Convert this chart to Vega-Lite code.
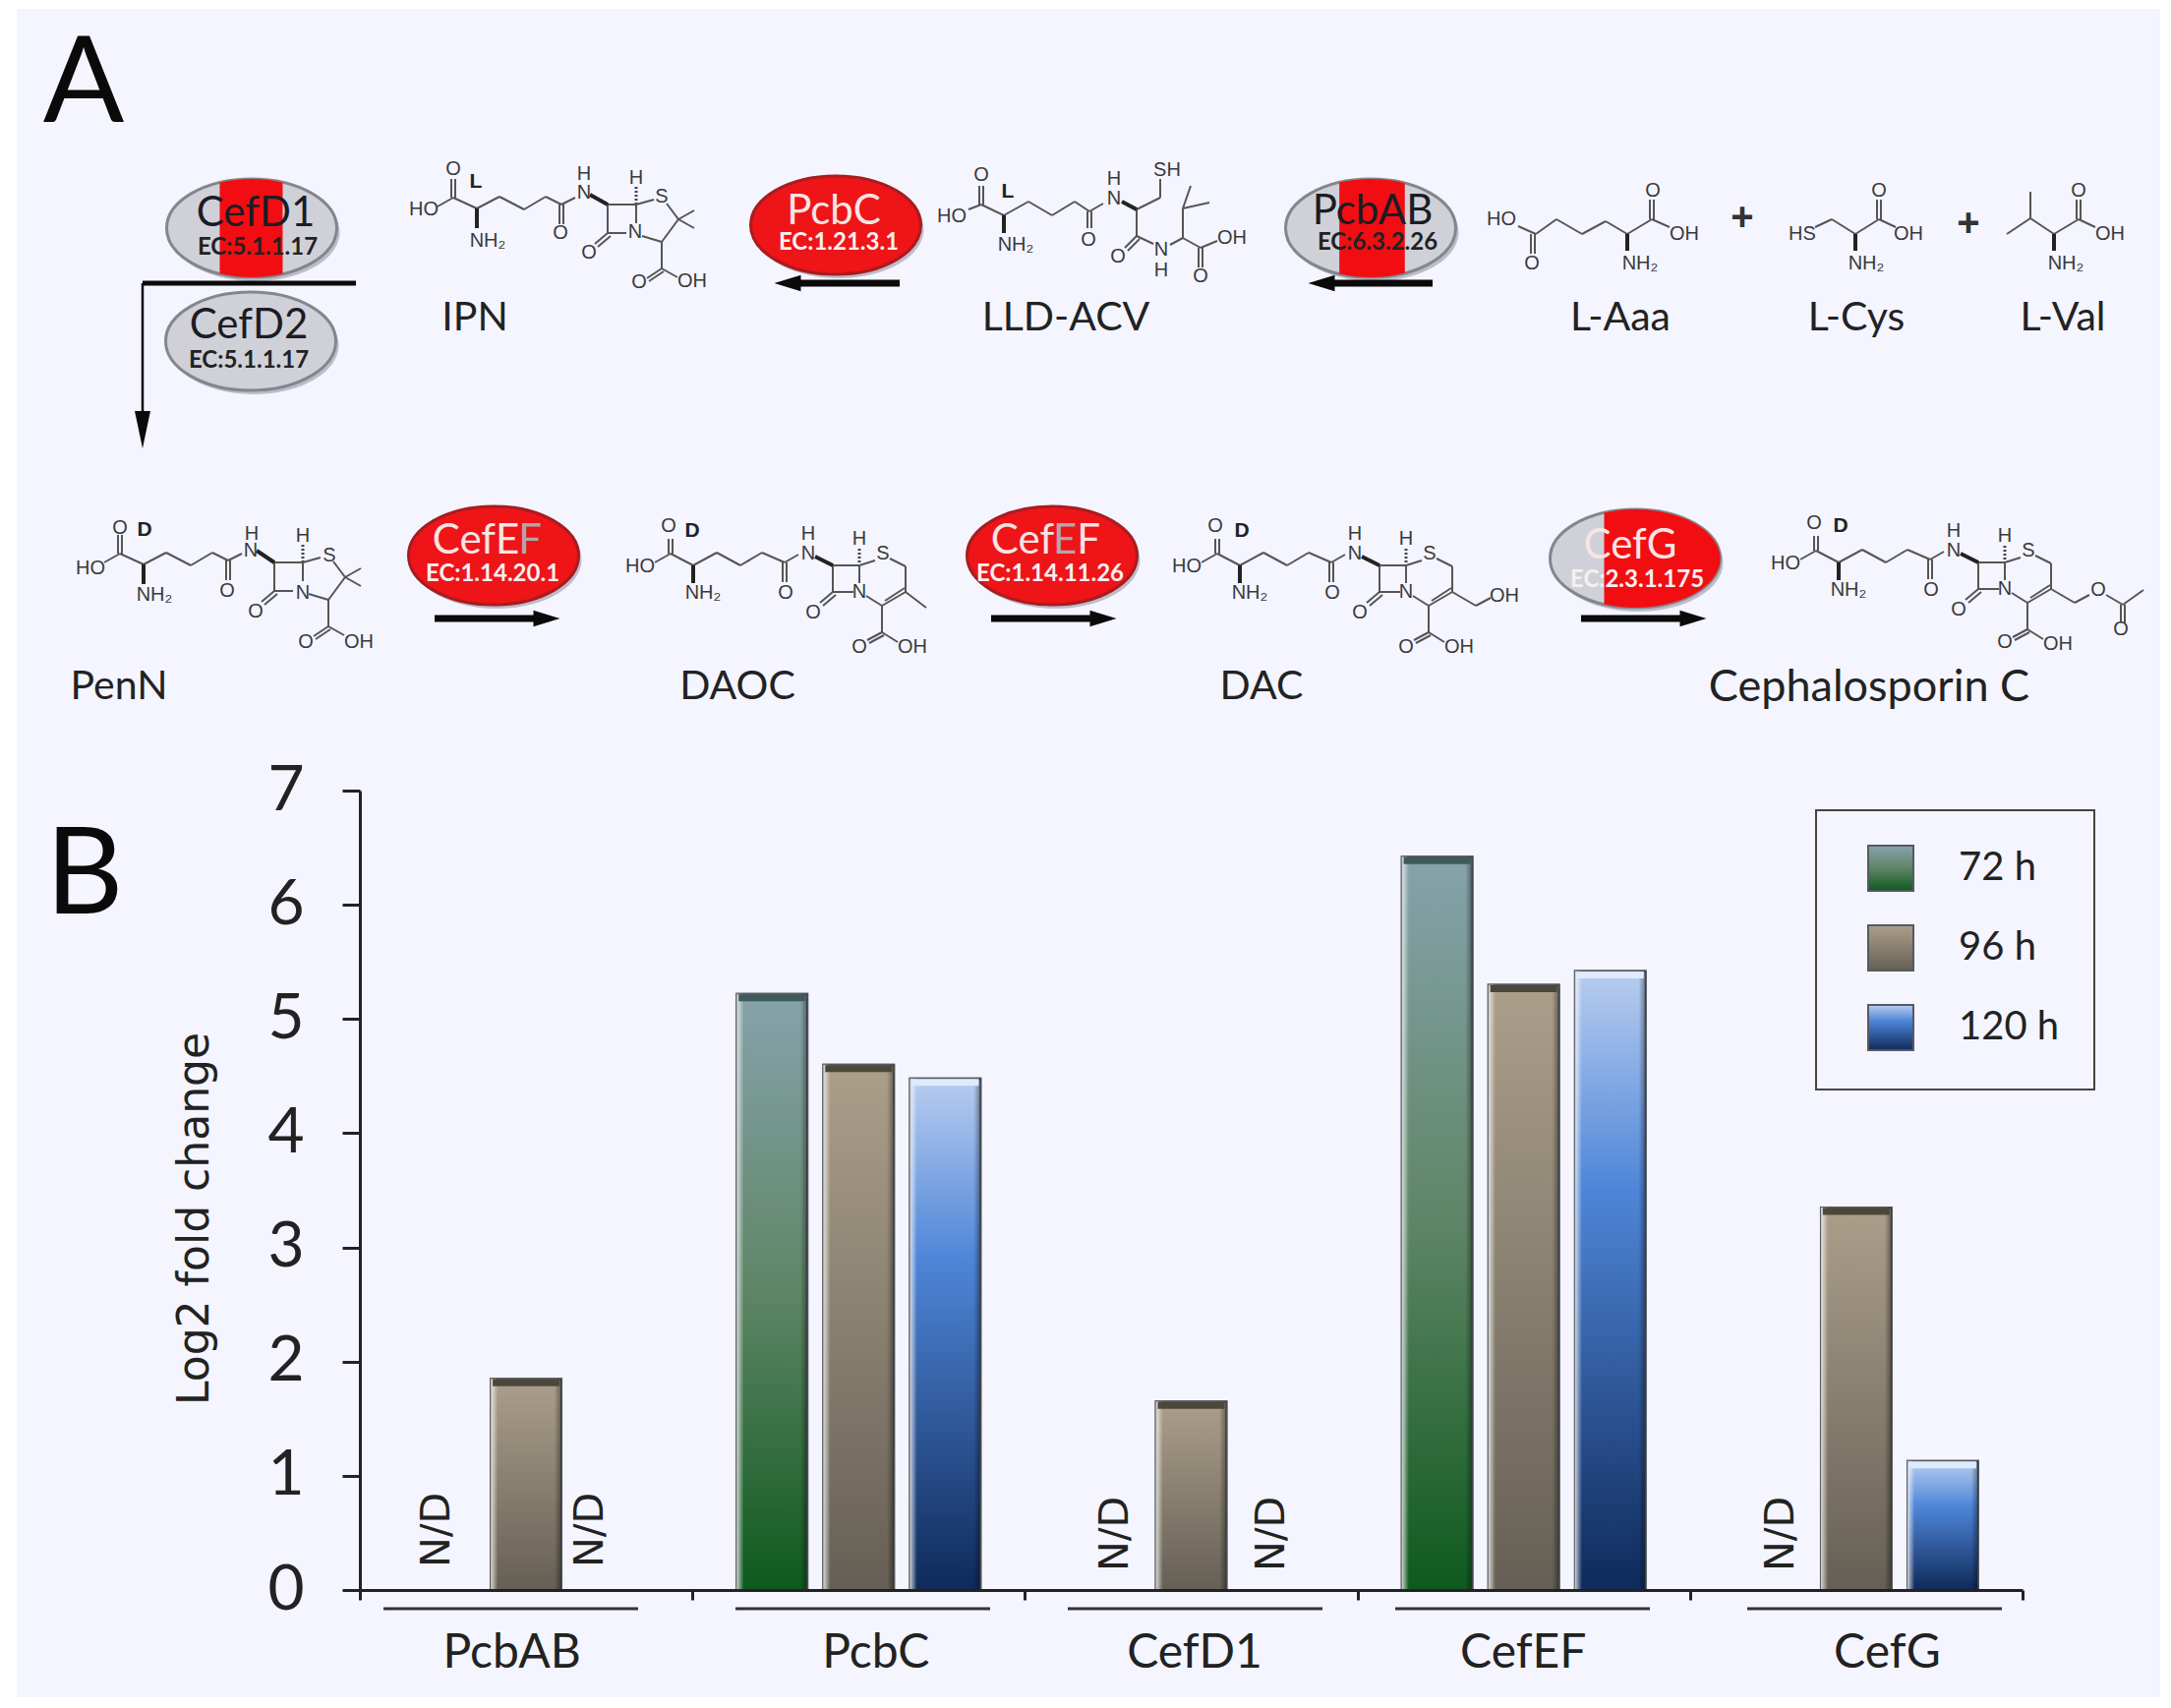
{
"$schema":"https://vega.github.io/schema/vega-lite/v6.json",
"width":2208,"height":1737,"padding":0,"autosize":{"type":"none"},"background":"#ffffff",
"config":{"view":{"stroke":null},"font":"Lato"},
"datasets":{
"sheet":[{"x":17,"y":9,"xe":2197,"ye":1726}],
"bonds":[
{"x":459,"y":201,"xe":459,"ye":182},{"x":463,"y":201,"xe":463,"ye":182},{"x":461,"y":201,"xe":445,"ye":210},{"x":461,"y":201,"xe":485,"ye":212},{"x":485,"y":212,"xe":508,"ye":200},{"x":508,"y":200,"xe":533,"ye":213},{"x":533,"y":213,"xe":555,"ye":200},{"x":555,"y":200,"xe":571,"ye":208},{"x":569,"y":208,"xe":569,"ye":228},{"x":573,"y":208,"xe":573,"ye":228},{"x":571,"y":208,"xe":585,"ye":201},{"x":618,"y":208,"xe":647,"ye":208},{"x":647,"y":208,"xe":647,"ye":227},{"x":618,"y":208,"xe":618,"ye":237},{"x":618,"y":237,"xe":637,"ye":237},{"x":618,"y":237,"xe":605,"ye":248},{"x":621,"y":240,"xe":608,"ye":251},{"x":653,"y":240,"xe":673,"ye":246},{"x":673,"y":246,"xe":690,"ye":223},{"x":690,"y":223,"xe":678,"ye":207},{"x":665,"y":203,"xe":647,"ye":208},{"x":690,"y":223,"xe":706,"ye":214},{"x":690,"y":223,"xe":706,"ye":232},{"x":673,"y":246,"xe":673,"ye":273},{"x":673,"y":273,"xe":658,"ye":283},{"x":675,"y":276,"xe":660,"ye":286},{"x":673,"y":273,"xe":689,"ye":282},
{"x":120,"y":563,"xe":120,"ye":544},{"x":124,"y":563,"xe":124,"ye":544},{"x":122,"y":563,"xe":106,"ye":572},{"x":122,"y":563,"xe":146,"ye":574},{"x":146,"y":574,"xe":169,"ye":562},{"x":169,"y":562,"xe":194,"ye":575},{"x":194,"y":575,"xe":216,"ye":562},{"x":216,"y":562,"xe":232,"ye":570},{"x":230,"y":570,"xe":230,"ye":590},{"x":234,"y":570,"xe":234,"ye":590},{"x":232,"y":570,"xe":246,"ye":563},{"x":279,"y":572,"xe":308,"ye":572},{"x":308,"y":572,"xe":308,"ye":591},{"x":279,"y":572,"xe":279,"ye":601},{"x":279,"y":601,"xe":298,"ye":601},{"x":279,"y":601,"xe":266,"ye":612},{"x":282,"y":604,"xe":269,"ye":615},{"x":314,"y":604,"xe":334,"ye":610},{"x":334,"y":610,"xe":351,"ye":587},{"x":351,"y":587,"xe":339,"ye":571},{"x":326,"y":567,"xe":308,"ye":572},{"x":351,"y":587,"xe":367,"ye":578},{"x":351,"y":587,"xe":367,"ye":596},{"x":334,"y":610,"xe":334,"ye":637},{"x":334,"y":637,"xe":319,"ye":647},{"x":336,"y":640,"xe":321,"ye":650},{"x":334,"y":637,"xe":350,"ye":646},
{"x":1845,"y":560,"xe":1845,"ye":545},{"x":1849,"y":560,"xe":1849,"ye":545},{"x":1847,"y":560,"xe":1831,"ye":569},{"x":1847,"y":560,"xe":1870,"ye":572},{"x":1870,"y":572,"xe":1894,"ye":559},{"x":1894,"y":559,"xe":1918,"ye":572},{"x":1918,"y":572,"xe":1940,"ye":559},{"x":1940,"y":559,"xe":1963,"ye":569},{"x":1961,"y":569,"xe":1961,"ye":589},{"x":1965,"y":569,"xe":1965,"ye":589},{"x":1963,"y":569,"xe":1977,"ye":561},{"x":2012,"y":572,"xe":2039,"ye":572},{"x":2039,"y":572,"xe":2039,"ye":590},{"x":2012,"y":572,"xe":2012,"ye":599},{"x":2012,"y":599,"xe":2033,"ye":599},{"x":2012,"y":599,"xe":1999,"ye":610},{"x":2015,"y":602,"xe":2002,"ye":613},{"x":2046,"y":603,"xe":2062,"ye":613},{"x":2062,"y":613,"xe":2086,"ye":599},{"x":2065,"y":608,"xe":2085,"ye":595},{"x":2086,"y":599,"xe":2086,"ye":573},{"x":2086,"y":573,"xe":2070,"ye":565},{"x":2055,"y":567,"xe":2039,"ye":572},{"x":2062,"y":613,"xe":2062,"ye":640},{"x":2062,"y":640,"xe":2047,"ye":648},{"x":2064,"y":643,"xe":2049,"ye":651},{"x":2062,"y":640,"xe":2078,"ye":650},{"x":2086,"y":599,"xe":2110,"ye":613},{"x":2110,"y":613,"xe":2125,"ye":605},{"x":2142,"y":605,"xe":2159,"ye":615},{"x":2159,"y":615,"xe":2180,"ye":600},{"x":2157,"y":615,"xe":2157,"ye":633},{"x":2161,"y":615,"xe":2161,"ye":633},
{"x":680,"y":563,"xe":680,"ye":548},{"x":684,"y":563,"xe":684,"ye":548},{"x":682,"y":563,"xe":666,"ye":572},{"x":682,"y":563,"xe":705,"ye":575},{"x":705,"y":575,"xe":729,"ye":562},{"x":729,"y":562,"xe":753,"ye":575},{"x":753,"y":575,"xe":775,"ye":562},{"x":775,"y":562,"xe":798,"ye":572},{"x":796,"y":572,"xe":796,"ye":592},{"x":800,"y":572,"xe":800,"ye":592},{"x":798,"y":572,"xe":812,"ye":564},{"x":847,"y":575,"xe":874,"ye":575},{"x":874,"y":575,"xe":874,"ye":593},{"x":847,"y":575,"xe":847,"ye":602},{"x":847,"y":602,"xe":868,"ye":602},{"x":847,"y":602,"xe":834,"ye":613},{"x":850,"y":605,"xe":837,"ye":616},{"x":881,"y":606,"xe":897,"ye":616},{"x":897,"y":616,"xe":921,"ye":602},{"x":900,"y":611,"xe":920,"ye":598},{"x":921,"y":602,"xe":921,"ye":576},{"x":921,"y":576,"xe":905,"ye":568},{"x":890,"y":570,"xe":874,"ye":575},{"x":897,"y":616,"xe":897,"ye":643},{"x":897,"y":643,"xe":882,"ye":651},{"x":899,"y":646,"xe":884,"ye":654},{"x":897,"y":643,"xe":913,"ye":653},{"x":921,"y":602,"xe":942,"ye":618},
{"x":1236,"y":563,"xe":1236,"ye":548},{"x":1240,"y":563,"xe":1240,"ye":548},{"x":1238,"y":563,"xe":1222,"ye":572},{"x":1238,"y":563,"xe":1261,"ye":575},{"x":1261,"y":575,"xe":1285,"ye":562},{"x":1285,"y":562,"xe":1309,"ye":575},{"x":1309,"y":575,"xe":1331,"ye":562},{"x":1331,"y":562,"xe":1354,"ye":572},{"x":1352,"y":572,"xe":1352,"ye":592},{"x":1356,"y":572,"xe":1356,"ye":592},{"x":1354,"y":572,"xe":1368,"ye":564},{"x":1403,"y":575,"xe":1430,"ye":575},{"x":1430,"y":575,"xe":1430,"ye":593},{"x":1403,"y":575,"xe":1403,"ye":602},{"x":1403,"y":602,"xe":1424,"ye":602},{"x":1403,"y":602,"xe":1390,"ye":613},{"x":1406,"y":605,"xe":1393,"ye":616},{"x":1437,"y":606,"xe":1453,"ye":616},{"x":1453,"y":616,"xe":1477,"ye":602},{"x":1456,"y":611,"xe":1476,"ye":598},{"x":1477,"y":602,"xe":1477,"ye":576},{"x":1477,"y":576,"xe":1461,"ye":568},{"x":1446,"y":570,"xe":1430,"ye":575},{"x":1453,"y":616,"xe":1453,"ye":643},{"x":1453,"y":643,"xe":1438,"ye":651},{"x":1455,"y":646,"xe":1440,"ye":654},{"x":1453,"y":643,"xe":1469,"ye":653},{"x":1477,"y":602,"xe":1501,"ye":616},{"x":1501,"y":616,"xe":1516,"ye":608},
{"x":996,"y":208,"xe":996,"ye":189},{"x":1000,"y":208,"xe":1000,"ye":189},{"x":998,"y":208,"xe":985,"ye":213},{"x":998,"y":208,"xe":1021,"ye":219},{"x":1021,"y":219,"xe":1046,"ye":205},{"x":1046,"y":205,"xe":1070,"ye":219},{"x":1070,"y":219,"xe":1093,"ye":205},{"x":1093,"y":205,"xe":1108,"ye":215},{"x":1106,"y":215,"xe":1106,"ye":232},{"x":1110,"y":215,"xe":1110,"ye":232},{"x":1108,"y":215,"xe":1122,"ye":207},{"x":1156,"y":213,"xe":1180,"ye":201},{"x":1180,"y":201,"xe":1180,"ye":182},{"x":1156,"y":213,"xe":1156,"ye":240},{"x":1156,"y":240,"xe":1144,"ye":252},{"x":1159,"y":243,"xe":1147,"ye":255},{"x":1156,"y":240,"xe":1173,"ye":248},{"x":1190,"y":249,"xe":1203,"ye":242},{"x":1203,"y":242,"xe":1203,"ye":212},{"x":1203,"y":212,"xe":1211,"ye":189},{"x":1203,"y":212,"xe":1230,"ye":206},{"x":1203,"y":242,"xe":1221,"ye":252},{"x":1219,"y":252,"xe":1219,"ye":272},{"x":1223,"y":252,"xe":1223,"ye":272},{"x":1221,"y":252,"xe":1238,"ye":245},
{"x":1544,"y":230,"xe":1562,"ye":238},{"x":1557,"y":238,"xe":1557,"ye":258},{"x":1561,"y":238,"xe":1561,"ye":258},{"x":1562,"y":238,"xe":1583,"ye":223},{"x":1583,"y":223,"xe":1609,"ye":238},{"x":1609,"y":238,"xe":1633,"ye":225},{"x":1633,"y":225,"xe":1655,"ye":238},{"x":1655,"y":238,"xe":1680,"ye":223},{"x":1678,"y":223,"xe":1678,"ye":203},{"x":1682,"y":223,"xe":1682,"ye":203},{"x":1680,"y":223,"xe":1698,"ye":231},
{"x":1846,"y":231,"xe":1863,"ye":223},{"x":1863,"y":223,"xe":1887,"ye":238},{"x":1887,"y":238,"xe":1911,"ye":223},{"x":1909,"y":223,"xe":1909,"ye":203},{"x":1913,"y":223,"xe":1913,"ye":203},{"x":1911,"y":223,"xe":1928,"ye":231},
{"x":2065,"y":195,"xe":2065,"ye":222},{"x":2041,"y":238,"xe":2065,"ye":222},{"x":2065,"y":222,"xe":2089,"ye":238},{"x":2089,"y":238,"xe":2114,"ye":223},{"x":2112,"y":223,"xe":2112,"ye":203},{"x":2116,"y":223,"xe":2116,"ye":203},{"x":2114,"y":223,"xe":2131,"ye":231}
],
"wedges":[{"x":485,"y":212,"xe":485,"ye":232},{"x":600,"y":198,"xe":618,"ye":208},{"x":146,"y":574,"xe":146,"ye":594},{"x":261,"y":560,"xe":279,"ye":572},{"x":1870,"y":572,"xe":1870,"ye":590},{"x":1994,"y":563,"xe":2012,"ye":572},{"x":705,"y":575,"xe":705,"ye":593},{"x":829,"y":566,"xe":847,"ye":575},{"x":1261,"y":575,"xe":1261,"ye":593},{"x":1385,"y":566,"xe":1403,"ye":575},{"x":1021,"y":219,"xe":1021,"ye":237},{"x":1141,"y":205,"xe":1156,"ye":213},{"x":1655,"y":238,"xe":1655,"ye":255},{"x":1887,"y":238,"xe":1887,"ye":255},{"x":2089,"y":238,"xe":2089,"ye":255}],
"hashes":[{"x":647,"y":190,"xe":647,"ye":207},{"x":308,"y":554,"xe":308,"ye":571},{"x":2039,"y":555,"xe":2039,"ye":571},{"x":874,"y":558,"xe":874,"ye":574},{"x":1430,"y":558,"xe":1430,"ye":574}],
"atoms":[
{"t":"O","x":461,"y":172},{"t":"HO","x":431,"y":213},{"t":"NH₂","x":496,"y":245},{"t":"O","x":570,"y":237},{"t":"N","x":594,"y":196},{"t":"H","x":594,"y":177},{"t":"S","x":673,"y":200},{"t":"H","x":647,"y":181},{"t":"N","x":646,"y":236},{"t":"O","x":599,"y":257},{"t":"O","x":650,"y":287},{"t":"OH","x":704,"y":286},
{"t":"O","x":122,"y":537},{"t":"HO","x":92,"y":578},{"t":"NH₂","x":157,"y":605},{"t":"O","x":231,"y":601},{"t":"N","x":255,"y":560},{"t":"H","x":256,"y":543},{"t":"S","x":335,"y":565},{"t":"H","x":308,"y":545},{"t":"N","x":308,"y":603},{"t":"O","x":260,"y":622},{"t":"O","x":311,"y":653},{"t":"OH","x":365,"y":653},
{"t":"O","x":1845,"y":532},{"t":"HO","x":1816,"y":573},{"t":"NH₂","x":1880,"y":600},{"t":"O","x":1964,"y":600},{"t":"N","x":1987,"y":560},{"t":"H","x":1987,"y":540},{"t":"S","x":2063,"y":560},{"t":"H","x":2039,"y":545},{"t":"N","x":2039,"y":599},{"t":"O","x":1992,"y":620},{"t":"O","x":2039,"y":653},{"t":"OH","x":2093,"y":655},{"t":"O","x":2134,"y":600},{"t":"O","x":2157,"y":640},
{"t":"O","x":680,"y":535},{"t":"HO","x":651,"y":576},{"t":"NH₂","x":715,"y":603},{"t":"O","x":799,"y":603},{"t":"N","x":822,"y":563},{"t":"H","x":822,"y":543},{"t":"S","x":898,"y":563},{"t":"H","x":874,"y":548},{"t":"N","x":874,"y":602},{"t":"O","x":827,"y":623},{"t":"O","x":874,"y":658},{"t":"OH","x":928,"y":658},
{"t":"O","x":1236,"y":535},{"t":"HO","x":1207,"y":576},{"t":"NH₂","x":1271,"y":603},{"t":"O","x":1355,"y":603},{"t":"N","x":1378,"y":563},{"t":"H","x":1378,"y":543},{"t":"S","x":1454,"y":563},{"t":"H","x":1430,"y":548},{"t":"N","x":1430,"y":602},{"t":"O","x":1383,"y":623},{"t":"O","x":1430,"y":658},{"t":"OH","x":1484,"y":658},{"t":"OH","x":1530,"y":606},
{"t":"O","x":998,"y":178},{"t":"HO","x":968,"y":220},{"t":"NH₂","x":1033,"y":249},{"t":"O","x":1107,"y":244},{"t":"N","x":1133,"y":202},{"t":"H","x":1133,"y":182},{"t":"SH","x":1187,"y":173},{"t":"O","x":1137,"y":261},{"t":"N","x":1181,"y":254},{"t":"H","x":1181,"y":275},{"t":"O","x":1221,"y":281},{"t":"OH","x":1253,"y":242},
{"t":"HO","x":1527,"y":223},{"t":"O","x":1558,"y":268},{"t":"NH₂","x":1668,"y":268},{"t":"O","x":1681,"y":194},{"t":"OH","x":1713,"y":238},
{"t":"HS","x":1833,"y":238},{"t":"NH₂","x":1898,"y":268},{"t":"O","x":1911,"y":194},{"t":"OH","x":1941,"y":238},
{"t":"NH₂","x":2101,"y":268},{"t":"O","x":2114,"y":194},{"t":"OH","x":2146,"y":238}
],
"stereo":[{"t":"L","x":484,"y":185},{"t":"L","x":1025,"y":195},{"t":"D","x":147,"y":539},{"t":"D","x":704,"y":540},{"t":"D","x":1263,"y":540},{"t":"D","x":1872,"y":535}],
"plus":[{"t":"+","x":1772,"y":222},{"t":"+","x":2002,"y":228}],
"compounds":[{"t":"IPN","x":483,"y":324},{"t":"LLD-ACV","x":1084,"y":324},{"t":"L-Aaa","x":1648,"y":324},{"t":"L-Cys","x":1888,"y":324},{"t":"L-Val","x":2098,"y":324},{"t":"PenN","x":121,"y":699},{"t":"DAOC","x":750,"y":699},{"t":"DAC","x":1283,"y":699}],
"cephName":[{"t":"Cephalosporin C","x":1901,"y":699}],
"grayEnz":[{"x":256,"y":232},{"x":255,"y":347},{"x":1394,"y":232},{"x":1663,"y":568}],
"redEnz":[{"x":850,"y":229},{"x":502,"y":565},{"x":1070,"y":565}],
"bandD":[{"x":256,"y":232}],"bandAB":[{"x":1394,"y":232}],"bandG":[{"x":1663,"y":568}],
"enzDark":[{"t":"CefD1","x":260,"y":217},{"t":"CefD2","x":253,"y":331},{"t":"PcbAB","x":1396,"y":215}],
"enzLight":[{"t":"PcbC","x":848,"y":215},{"t":"CefG","x":1658,"y":555},{"t":"CefE","x":484,"y":550},{"t":"Cef","x":1040,"y":550},{"t":"F","x":1107,"y":550}],
"enzGrey":[{"t":"F","x":539,"y":550},{"t":"E","x":1083,"y":550}],
"ecDark":[{"t":"EC:5.1.1.17","x":262,"y":252},{"t":"EC:5.1.1.17","x":253,"y":367},{"t":"EC:6.3.2.26","x":1401,"y":247}],
"ecLight":[{"t":"EC:1.21.3.1","x":853,"y":247},{"t":"EC:1.14.20.1","x":501,"y":584},{"t":"EC:1.14.11.26","x":1068,"y":584},{"t":"EC:2.3.1.175","x":1665,"y":590}],
"shafts":[{"x":800,"y":288,"xe":915,"ye":288},{"x":1345,"y":288,"xe":1457,"ye":288},{"x":442,"y":629,"xe":555,"ye":629},{"x":1008,"y":629,"xe":1121,"ye":629},{"x":1608,"y":629,"xe":1721,"ye":629}],
"headLeft":[{"x":801,"y":288},{"x":1344,"y":288}],
"headRight":[{"x":556,"y":629},{"x":1122,"y":629},{"x":1722,"y":629}],
"elbowH":[{"x":145,"y":288,"xe":362,"ye":288}],
"elbowV":[{"x":145,"y":288,"xe":145,"ye":425}],
"headDown":[{"x":145,"y":437}],
"panels":[{"t":"A","x":85,"y":87},{"t":"B","x":86,"y":892}],
"underlines":[{"x":390,"y":1636,"xe":649,"ye":1636},{"x":748,"y":1636,"xe":1007,"ye":1636},{"x":1086,"y":1636,"xe":1345,"ye":1636},{"x":1419,"y":1636,"xe":1678,"ye":1636},{"x":1777,"y":1636,"xe":2036,"ye":1636}],
"notDetected":[{"t":"N/D","x":445,"y":1556},{"t":"N/D","x":601,"y":1556},{"t":"N/D","x":1135,"y":1560},{"t":"N/D","x":1294,"y":1560},{"t":"N/D","x":1812,"y":1560}],
"legendBox":[{"x":1847,"y":824,"xe":2130,"ye":1108}],
"bars":[
{"gene":"PcbAB","series":"96 h","value":1.85},
{"gene":"PcbC","series":"72 h","value":5.22},{"gene":"PcbC","series":"96 h","value":4.6},{"gene":"PcbC","series":"120 h","value":4.48},
{"gene":"CefD1","series":"96 h","value":1.65},
{"gene":"CefEF","series":"72 h","value":6.42},{"gene":"CefEF","series":"96 h","value":5.3},{"gene":"CefEF","series":"120 h","value":5.42},
{"gene":"CefG","series":"96 h","value":3.35},{"gene":"CefG","series":"120 h","value":1.13}
]
},
"layer":[
{"encoding":{"x":{"field":"x","type":"quantitative","scale":{"domain":[0,2208],"nice":false,"zero":false},"axis":null},"y":{"field":"y","type":"quantitative","scale":{"domain":[1737,0],"nice":false,"zero":false},"axis":null}},
 "layer":[{"data":{"name":"sheet"},"mark":{"type":"rect","fill":"#f4f5ff"},"encoding":{"x2":{"field":"xe"},"y2":{"field":"ye"}}}]},
{"data":{"name":"bars"},
 "encoding":{
  "x":{"field":"gene","type":"nominal","sort":["PcbAB","PcbC","CefD1","CefEF","CefG"],"scale":{"range":[366,2057],"paddingInner":0,"paddingOuter":0},
   "axis":{"title":null,"zindex":1,"orient":"bottom","offset":-120,"domainColor":"#222","domainWidth":3,"tickColor":"#222","tickWidth":3,"tickSize":10,"tickBand":"extent","labelAngle":0,"labelFont":"Lato","labelFontSize":48,"labelColor":"#222","labelPadding":30,"labelFlush":false,"labelOverlap":false,"encoding":{"labels":{"dx":{"value":{"expr":"datum.value==='PcbAB'?-15:datum.value==='PcbC'?17:datum.value==='CefD1'?3:datum.value==='CefEF'?-1:31"}}}}}},
  "xOffset":{"field":"series","type":"nominal","sort":["72 h","96 h","120 h"],"scale":{"domain":["72 h","96 h","120 h"],"paddingInner":0.184,"paddingOuter":0.512}},
  "y":{"field":"value","type":"quantitative","scale":{"domain":[0,7],"range":[1617,804],"nice":false},
   "axis":{"title":"Log2 fold change","zindex":1,"orient":"left","offset":-366,"values":[0,1,2,3,4,5,6,7],"format":"d","grid":false,"domainColor":"#222","domainWidth":3,"tickColor":"#222","tickWidth":3,"tickSize":18,"labelFont":"Lato","labelFontSize":64,"labelColor":"#222","labelPadding":39,"titleFont":"DejaVu Sans","titleFontSize":44,"titleFontWeight":"normal","titleColor":"#222","titleAngle":-90,"titleX":-146,"titleY":1239,"titleAnchor":"middle"}}
 },
 "layer":[
  {"mark":{"type":"bar","fill":"#888888","strokeWidth":2},
   "encoding":{"stroke":{"field":"series","type":"nominal","sort":["72 h","96 h","120 h"],
    "scale":{"domain":["72 h","96 h","120 h"],"range":["#555a60","#555a60","#555a60"]},
    "legend":{"title":null,"orient":"none","legendX":1899,"legendY":859,"symbolType":"square","symbolSize":2116,"symbolStrokeWidth":2,"symbolOpacity":1,"rowPadding":27,"labelOffset":45,"labelFont":"Lato","labelFontSize":40,"labelColor":"#222","padding":0,
     "encoding":{"symbols":{"fill":{"value":{"expr":"datum.value==='72 h'?{gradient:'linear',x1:0,y1:0,x2:0,y2:1,stops:[{offset:0,color:'#86a3ab'},{offset:0.5,color:'#5f8566'},{offset:1,color:'#0e5a1e'}]}:datum.value==='96 h'?{gradient:'linear',x1:0,y1:0,x2:0,y2:1,stops:[{offset:0,color:'#ab9f8a'},{offset:1,color:'#665f55'}]}:{gradient:'linear',x1:0,y1:0,x2:0,y2:1,stops:[{offset:0,color:'#b8cdf0'},{offset:0.35,color:'#4f86d8'},{offset:1,color:'#0f2a5a'}]}"}}}}}}}},
  {"transform":[{"filter":"datum.series==='72 h'"}],"mark":{"type":"bar","stroke":"#555a60","strokeWidth":2,"opacity":1,"color":{"gradient":"linear","x1":0,"y1":0,"x2":0,"y2":1,"stops":[{"offset":0,"color":"#86a3ab"},{"offset":0.5,"color":"#5f8566"},{"offset":1,"color":"#0e5a1e"}]}}},
  {"transform":[{"filter":"datum.series==='96 h'"}],"mark":{"type":"bar","stroke":"#555a60","strokeWidth":2,"opacity":1,"color":{"gradient":"linear","x1":0,"y1":0,"x2":0,"y2":1,"stops":[{"offset":0,"color":"#ab9f8a"},{"offset":1,"color":"#665f55"}]}}},
  {"transform":[{"filter":"datum.series==='120 h'"}],"mark":{"type":"bar","stroke":"#555a60","strokeWidth":2,"opacity":1,"color":{"gradient":"linear","x1":0,"y1":0,"x2":0,"y2":1,"stops":[{"offset":0,"color":"#b8cdf0"},{"offset":0.35,"color":"#4f86d8"},{"offset":1,"color":"#0f2a5a"}]}}},
  {"mark":{"type":"bar","color":{"gradient":"linear","x1":0,"y1":0,"x2":1,"y2":0,"stops":[{"offset":0,"color":"rgba(255,255,255,0.75)"},{"offset":0.1,"color":"rgba(255,255,255,0)"},{"offset":0.9,"color":"rgba(0,0,0,0)"},{"offset":1,"color":"rgba(0,0,0,0.4)"}]}}},
  {"transform":[{"filter":"datum.series==='72 h'"}],"mark":{"type":"tick","size":68,"thickness":7,"yOffset":4,"color":"#3f5a5c","opacity":1}},
  {"transform":[{"filter":"datum.series==='96 h'"}],"mark":{"type":"tick","size":68,"thickness":7,"yOffset":4,"color":"#4d463a","opacity":1}},
  {"transform":[{"filter":"datum.series==='120 h'"}],"mark":{"type":"tick","size":68,"thickness":7,"yOffset":4,"color":"#dfeaff","opacity":1}}
 ]},
{"encoding":{"x":{"field":"x","type":"quantitative","scale":{"domain":[0,2208],"nice":false,"zero":false},"axis":null},"y":{"field":"y","type":"quantitative","scale":{"domain":[1737,0],"nice":false,"zero":false},"axis":null}},
 "layer":[
  {"data":{"name":"legendBox"},"mark":{"type":"rect","fillOpacity":0,"stroke":"#444","strokeWidth":2},"encoding":{"x2":{"field":"xe"},"y2":{"field":"ye"}}},
  {"data":{"name":"underlines"},"mark":{"type":"rule","color":"#333","strokeWidth":3},"encoding":{"x2":{"field":"xe"},"y2":{"field":"ye"}}},
  {"data":{"name":"notDetected"},"mark":{"type":"text","font":"DejaVu Sans","fontSize":41,"angle":270,"color":"#222","align":"center","baseline":"middle"},"encoding":{"text":{"field":"t"}}},
  {"data":{"name":"bonds"},"mark":{"type":"rule","color":"#555","strokeWidth":2},"encoding":{"x2":{"field":"xe"},"y2":{"field":"ye"}}},
  {"data":{"name":"wedges"},"mark":{"type":"rule","color":"#222","strokeWidth":4},"encoding":{"x2":{"field":"xe"},"y2":{"field":"ye"}}},
  {"data":{"name":"hashes"},"mark":{"type":"rule","color":"#444","strokeWidth":3,"strokeDash":[2,2]},"encoding":{"x2":{"field":"xe"},"y2":{"field":"ye"}}},
  {"data":{"name":"atoms"},"mark":{"type":"text","font":"Liberation Sans","fontSize":20,"color":"#3a3a3a","align":"center","baseline":"middle"},"encoding":{"text":{"field":"t"}}},
  {"data":{"name":"stereo"},"mark":{"type":"text","font":"Liberation Sans","fontWeight":"bold","fontSize":21,"color":"#222","align":"center","baseline":"middle"},"encoding":{"text":{"field":"t"}}},
  {"data":{"name":"plus"},"mark":{"type":"text","font":"Liberation Sans","fontWeight":"bold","fontSize":40,"color":"#333","align":"center","baseline":"middle"},"encoding":{"text":{"field":"t"}}},
  {"data":{"name":"compounds"},"mark":{"type":"text","font":"Lato","fontSize":41,"color":"#222","align":"center","baseline":"middle"},"encoding":{"text":{"field":"t"}}},
  {"data":{"name":"cephName"},"mark":{"type":"text","font":"Lato","fontSize":45,"color":"#222","align":"center","baseline":"middle"},"encoding":{"text":{"field":"t"}}},
  {"data":{"name":"grayEnz"},"mark":{"type":"point","filled":true,"shape":"M-1,0A1,0.578 0 1,1 1,0A1,0.578 0 1,1 -1,0Z","size":29929,"fill":"#555566","opacity":0.35,"xOffset":3,"yOffset":4}},
  {"data":{"name":"redEnz"},"mark":{"type":"point","filled":true,"shape":"M-1,0A1,0.578 0 1,1 1,0A1,0.578 0 1,1 -1,0Z","size":29929,"fill":"#555566","opacity":0.35,"xOffset":3,"yOffset":4}},
  {"data":{"name":"grayEnz"},"mark":{"type":"point","filled":true,"shape":"M-1,0A1,0.578 0 1,1 1,0A1,0.578 0 1,1 -1,0Z","size":29929,"fill":"#d0d1d8","fillOpacity":1,"opacity":1,"stroke":"#85868c","strokeWidth":3}},
  {"data":{"name":"redEnz"},"mark":{"type":"point","filled":true,"shape":"M-1,0A1,0.578 0 1,1 1,0A1,0.578 0 1,1 -1,0Z","size":29929,"fill":"#ee1418","fillOpacity":1,"opacity":1,"stroke":"#a81c20","strokeWidth":3}},
  {"data":{"name":"bandD"},"mark":{"type":"point","filled":true,"shape":"M-0.376,-0.536A1,0.578 0 0,1 0.364,-0.538L0.364,0.538A1,0.578 0 0,1 -0.376,0.536Z","size":29929,"fill":"#f20d12","opacity":1}},
  {"data":{"name":"bandAB"},"mark":{"type":"point","filled":true,"shape":"M-0.368,-0.537A1,0.578 0 0,1 0.402,-0.529L0.402,0.529A1,0.578 0 0,1 -0.368,0.537Z","size":29929,"fill":"#f20d12","opacity":1}},
  {"data":{"name":"bandG"},"mark":{"type":"point","filled":true,"shape":"M-0.364,-0.538A1,0.578 0 0,1 1,0A1,0.578 0 0,1 -0.364,0.538Z","size":29929,"fill":"#f20d12","opacity":1}},
  {"data":{"name":"enzDark"},"mark":{"type":"text","font":"Lato","fontSize":42,"color":"#1c1c24","align":"center","baseline":"middle"},"encoding":{"text":{"field":"t"}}},
  {"data":{"name":"enzLight"},"mark":{"type":"text","font":"Lato","fontSize":42,"color":"#f7e4e4","align":"center","baseline":"middle"},"encoding":{"text":{"field":"t"}}},
  {"data":{"name":"enzGrey"},"mark":{"type":"text","font":"Lato","fontSize":42,"color":"#b5a5aa","align":"center","baseline":"middle"},"encoding":{"text":{"field":"t"}}},
  {"data":{"name":"ecDark"},"mark":{"type":"text","font":"Lato","fontWeight":"bold","fontSize":24,"color":"#222","align":"center","baseline":"middle"},"encoding":{"text":{"field":"t"}}},
  {"data":{"name":"ecLight"},"mark":{"type":"text","font":"Lato","fontWeight":"bold","fontSize":24,"color":"#f8f0f0","align":"center","baseline":"middle"},"encoding":{"text":{"field":"t"}}},
  {"data":{"name":"shafts"},"mark":{"type":"rule","color":"#0a0a0a","strokeWidth":7},"encoding":{"x2":{"field":"xe"},"y2":{"field":"ye"}}},
  {"data":{"name":"headLeft"},"mark":{"type":"point","filled":true,"shape":"M-1,0L1,-0.62L1,0.62Z","size":729,"fill":"#0a0a0a","opacity":1}},
  {"data":{"name":"headRight"},"mark":{"type":"point","filled":true,"shape":"M1,0L-1,-0.62L-1,0.62Z","size":729,"fill":"#0a0a0a","opacity":1}},
  {"data":{"name":"elbowH"},"mark":{"type":"rule","color":"#0a0a0a","strokeWidth":5},"encoding":{"x2":{"field":"xe"},"y2":{"field":"ye"}}},
  {"data":{"name":"elbowV"},"mark":{"type":"rule","color":"#0a0a0a","strokeWidth":2.5},"encoding":{"x2":{"field":"xe"},"y2":{"field":"ye"}}},
  {"data":{"name":"headDown"},"mark":{"type":"point","filled":true,"shape":"M0,1L-0.42,-1L0.42,-1Z","size":1444,"fill":"#0a0a0a","opacity":1}},
  {"data":{"name":"panels"},"mark":{"type":"text","font":"Lato","fontSize":122,"color":"#0a0a0a","align":"center","baseline":"middle"},"encoding":{"text":{"field":"t"}}}
 ]}
],
"resolve":{"scale":{"x":"independent","y":"independent"},"axis":{"x":"independent","y":"independent"}}
}
